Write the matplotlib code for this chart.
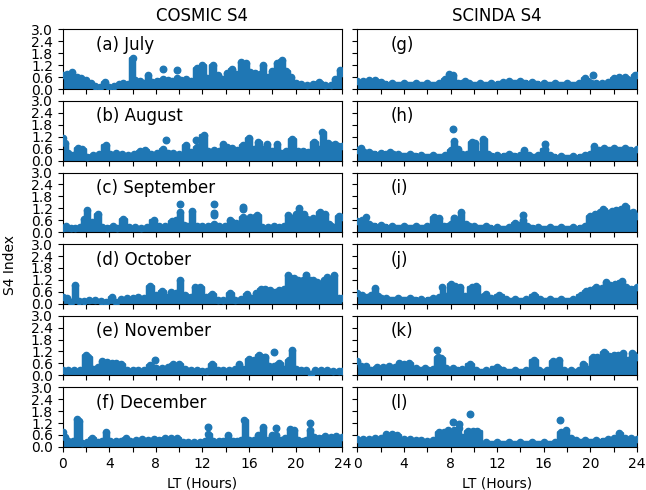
import matplotlib
matplotlib.use("Agg")
import matplotlib.pyplot as plt

# envelope of S4 values (top of the point cloud) per panel
jul_lt = [0, 0.4, 0.8, 1.2, 1.6, 2.0, 2.4, 2.8, 3.2, 3.6, 4.0, 4.4, 4.8, 5.2, 5.6, 6.0, 6.2, 6.6, 7.0, 7.3, 7.7, 8.1,
          8.6, 9.0, 9.4, 9.8, 10.2, 10.6, 11.0, 11.5, 12.0, 12.4, 12.9, 13.3, 13.7, 14.1, 14.5, 14.9, 15.3, 15.7,
          16.1, 16.5, 16.9, 17.2, 17.6, 18.0, 18.4, 18.8, 19.2, 19.6, 20.0, 20.5, 21.0, 21.5, 22.0, 22.5, 23.0,
          23.4, 23.8, 24]
jul_s4 = [0.7, 0.75, 0.85, 0.6, 0.55, 0.45, 0.3, 0.15, 0.1, 0.35, 0.1, 0.15, 0.25, 0.3, 0.25, 1.55, 0.45, 0.4, 0.3,
          0.7, 0.35, 0.4, 0.5, 0.45, 0.4, 0.55, 0.45, 0.5, 0.4, 1.05, 1.2, 0.55, 1.2, 0.7, 0.5, 0.8, 1.0, 0.75, 1.35,
          1.3, 0.85, 0.8, 0.75, 1.2, 0.6, 0.9, 1.3, 1.45, 0.9, 0.6, 0.3, 0.25, 0.2, 0.25, 0.35, 0.2, 0.2, 0.5, 0.95,
          0.8]
jul_dots = [(8.6, 1.0), (9.8, 0.95)]

aug_lt = [0, 0.2, 0.5, 0.9, 1.3, 1.7, 2.1, 2.6, 3.1, 3.7, 4.1, 4.6, 5.1, 5.6, 6.1, 6.6, 7.1, 7.6, 8.1, 8.6, 9.0, 9.5,
          10.0, 10.6, 11.0, 11.5, 12.1, 12.5, 13.0, 13.4, 13.8, 14.1, 14.5, 15.0, 15.5, 16.0, 16.4, 16.8, 17.2, 17.5,
          18.0, 18.4, 18.7, 19.2, 19.7, 20.2, 20.6, 21.1, 21.6, 22.0, 22.3, 22.8, 23.4, 24]
aug_s4 = [1.15, 0.9, 0.4, 0.3, 0.65, 0.6, 0.2, 0.3, 0.35, 0.8, 0.35, 0.4, 0.35, 0.3, 0.35, 0.5, 0.55, 0.35, 0.4, 0.6,
          0.4, 0.4, 0.35, 0.8, 0.45, 0.7, 1.3, 0.5, 0.55, 0.5, 0.85, 0.7, 0.65, 0.55, 0.8, 1.15, 0.6, 0.95, 0.6, 0.85,
          0.5, 0.85, 0.4, 0.5, 1.1, 0.5, 0.5, 0.45, 0.95, 0.6, 1.45, 0.9, 0.85, 0.75]
aug_dots = [(8.9, 1.05), (11.45, 1.05)]

sep_lt = [0, 0.3, 0.7, 1.1, 1.5, 1.8, 2.1, 2.5, 3.0, 3.4, 3.8, 4.3, 4.7, 5.2, 5.7, 6.2, 6.7, 7.2, 7.8, 8.3, 8.8, 9.4,
          9.7, 10.05, 10.4, 10.7, 11.1, 11.5, 12.0, 12.5, 13.0, 13.4, 13.9, 14.4, 14.9, 15.5, 15.8, 16.1, 16.7, 17.1,
          17.6, 18.1, 18.6, 19.0, 19.3, 19.7, 20.0, 20.3, 20.7, 21.0, 21.5, 22.1, 22.5, 22.9, 23.3, 23.7, 24]
sep_s4 = [0.2, 0.3, 0.2, 0.2, 0.25, 0.65, 1.1, 0.5, 0.9, 0.25, 0.2, 0.3, 0.2, 0.65, 0.25, 0.25, 0.2, 0.25, 0.6, 0.3,
          0.3, 0.55, 0.6, 1.0, 0.35, 0.3, 1.05, 0.3, 0.3, 0.3, 0.4, 0.3, 0.3, 0.6, 0.45, 0.75, 0.3, 0.75, 0.85, 0.25,
          0.25, 0.3, 0.25, 0.3, 0.85, 0.7, 0.9, 1.2, 0.9, 0.65, 0.7, 1.0, 0.9, 0.4, 0.25, 0.8, 0.75]
sep_dots = [(10.05, 1.4), (13.0, 0.85), (13.0, 0.95), (13.0, 1.4), (15.5, 1.18), (15.5, 1.25)]

oct_lt = [0, 0.4, 0.7, 1.1, 1.4, 1.8, 2.3, 2.8, 3.3, 3.7, 4.2, 4.6, 5.0, 5.5, 6.0, 6.5, 7.0, 7.5, 8.0, 8.5, 9.0, 9.3,
          9.7, 10.05, 10.5, 11.0, 11.4, 11.8, 12.3, 12.8, 13.3, 13.8, 14.4, 14.8, 15.3, 15.8, 16.2, 16.6, 17.0, 17.4,
          17.8, 18.2, 18.6, 19.0, 19.3, 19.6, 19.9, 20.2, 20.6, 20.9, 21.2, 21.5, 21.8, 22.1, 22.4, 22.7, 23.0, 23.3,
          23.7, 24]
oct_s4 = [0.35, 0.3, 0.1, 0.95, 0.15, 0.15, 0.2, 0.2, 0.15, 0.1, 0.35, 0.1, 0.25, 0.3, 0.3, 0.35, 0.3, 0.9, 0.45, 0.65,
          0.35, 0.6, 0.55, 1.2, 0.45, 0.35, 0.85, 0.85, 0.35, 0.5, 0.2, 0.2, 0.55, 0.2, 0.25, 0.5, 0.3, 0.55, 0.75,
          0.75, 0.7, 0.6, 0.7, 0.75, 1.45, 1.3, 1.3, 1.2, 1.2, 1.3, 1.2, 1.2, 1.1, 1.0, 1.2, 1.35, 0.6, 1.45, 0.3, 0.3]
oct_dots = [(20.9, 1.45)]

nov_lt = [0, 0.5, 1.0, 1.5, 2.0, 2.2, 2.6, 3.0, 3.4, 3.8, 4.2, 4.6, 5.0, 5.5, 6.0, 6.5, 7.0, 7.5, 8.0, 8.5, 9.0, 9.5,
          10.0, 10.5, 11.0, 11.5, 12.0, 12.4, 12.8, 13.3, 13.8, 14.3, 14.8, 15.1, 15.5, 16.0, 16.4, 16.85, 17.3, 17.7,
          18.1, 18.6, 19.0, 19.4, 19.7, 20.0, 20.5, 20.9, 21.3, 21.7, 22.2, 22.7, 23.2, 23.7, 24]
nov_s4 = [0.25, 0.25, 0.25, 0.25, 1.0, 0.9, 0.3, 0.4, 0.7, 0.65, 0.6, 0.6, 0.55, 0.25, 0.25, 0.25, 0.25, 0.5, 0.35,
          0.35, 0.4, 0.55, 0.55, 0.3, 0.25, 0.25, 0.2, 0.2, 0.55, 0.25, 0.25, 0.25, 0.3, 0.55, 0.3, 0.8, 0.75, 1.0,
          0.85, 0.45, 0.45, 0.6, 0.3, 0.75, 1.25, 0.3, 0.25, 0.25, 0.05, 0.25, 0.25, 0.25, 0.2, 0.2, 0.2]
nov_dots = [(7.9, 0.75), (18.1, 1.15), (17.4, 0.9)]

dec_lt = [0, 0.2, 0.5, 0.9, 1.2, 1.4, 1.7, 2.1, 2.5, 3.0, 3.4, 3.7, 4.1, 4.6, 5.0, 5.4, 5.8, 6.3, 6.8, 7.3, 7.8, 8.3,
          8.8, 9.3, 9.8, 10.3, 10.8, 11.3, 11.8, 12.2, 12.5, 12.9, 13.4, 13.8, 14.2, 14.6, 15.0, 15.3, 15.6, 16.0,
          16.4, 16.8, 17.2, 17.6, 18.0, 18.3, 18.7, 19.1, 19.5, 19.9, 20.2, 20.6, 20.9, 21.2, 21.6, 22.0, 22.5, 23.0,
          23.5, 24]
dec_s4 = [0.75, 0.5, 0.3, 0.3, 1.4, 1.3, 0.2, 0.25, 0.45, 0.25, 0.3, 0.75, 0.3, 0.3, 0.3, 0.45, 0.3, 0.35, 0.4, 0.35,
          0.4, 0.35, 0.45, 0.45, 0.45, 0.25, 0.25, 0.25, 0.25, 0.3, 0.65, 0.3, 0.3, 0.3, 0.6, 0.3, 0.3, 0.35, 1.35,
          0.35, 0.35, 0.6, 1.0, 0.35, 0.6, 0.6, 0.35, 0.45, 0.9, 0.85, 0.35, 0.3, 0.35, 0.85, 0.5, 0.45, 0.55, 0.5,
          0.55, 0.5]
dec_dots = [(12.5, 1.0), (18.3, 0.95), (21.2, 1.2)]

g_lt = [0, 0.5, 1.0, 1.5, 2.0, 3.0, 4.0, 5.0, 6.0, 7.0, 7.5, 7.9, 8.2, 8.6, 9.2, 9.6, 10.5, 11.5, 12.5, 13.0, 14.0,
        15.0, 16.0, 17.0, 18.0, 19.0, 19.5, 19.8, 20.5, 21.0, 21.5, 22.0, 22.5, 23.0, 23.4, 23.8, 24]
g_s4 = [0.4, 0.4, 0.45, 0.45, 0.35, 0.3, 0.3, 0.3, 0.3, 0.3, 0.5, 0.75, 0.7, 0.3, 0.4, 0.3, 0.3, 0.3, 0.35, 0.4, 0.4,
        0.35, 0.3, 0.3, 0.3, 0.3, 0.55, 0.4, 0.3, 0.3, 0.35, 0.55, 0.6, 0.6, 0.45, 0.7, 0.7]
g_dots = [(20.2, 0.72)]

h_lt = [0, 0.3, 0.6, 1.0, 2.0, 2.8, 3.5, 4.5, 5.5, 6.5, 7.5, 8.0, 8.3, 8.6, 9.0, 9.4, 9.8, 10.1, 10.5, 10.8, 11.2,
        12.0, 13.0, 14.0, 14.3, 14.7, 15.5, 16.1, 16.5, 17.5, 18.5, 19.5, 20.0, 20.3, 20.7, 21.2, 22.0, 23.0, 24]
h_s4 = [0.55, 0.65, 0.45, 0.45, 0.4, 0.45, 0.35, 0.35, 0.3, 0.3, 0.3, 0.55, 1.0, 0.6, 0.35, 0.35, 0.95, 0.9, 0.35,
        1.1, 0.35, 0.3, 0.35, 0.3, 0.55, 0.3, 0.3, 0.6, 0.3, 0.25, 0.25, 0.3, 0.35, 0.75, 0.55, 0.65, 0.65, 0.65,
        0.6]
h_dots = [(8.25, 1.6), (16.1, 0.85)]

i_lt = [0, 0.4, 0.7, 1.0, 2.0, 3.0, 4.0, 5.0, 6.0, 6.6, 7.0, 7.4, 8.0, 8.3, 8.6, 8.9, 9.3, 10.0, 11.0, 12.0, 13.0,
        13.5, 13.9, 14.2, 14.6, 15.5, 16.5, 17.5, 18.5, 19.5, 20.0, 20.4, 20.8, 21.1, 21.5, 21.9, 22.2, 22.6, 23.0,
        23.4, 23.7, 24]
i_s4 = [0.55, 0.6, 0.75, 0.4, 0.35, 0.3, 0.3, 0.3, 0.3, 0.75, 0.7, 0.3, 0.4, 0.6, 0.4, 1.0, 0.4, 0.3, 0.3, 0.25, 0.25,
        0.45, 0.35, 0.6, 0.3, 0.25, 0.25, 0.25, 0.25, 0.3, 0.8, 0.9, 1.0, 1.15, 0.95, 1.05, 1.1, 1.15, 1.3, 0.95,
        1.0, 0.8]
i_dots = [(14.2, 0.85), (8.3, 0.72)]

j_lt = [0, 0.4, 0.8, 1.2, 1.5, 1.8, 2.5, 3.5, 4.5, 5.5, 6.5, 7.0, 7.3, 7.6, 8.0, 8.4, 8.8, 9.2, 9.8, 10.2, 10.6, 11.0,
        11.5, 12.2, 12.8, 13.5, 14.5, 15.2, 15.7, 16.5, 17.5, 18.5, 19.2, 19.6, 20.0, 20.5, 21.0, 21.3, 21.7, 22.1,
        22.7, 23.1, 23.5, 24]
j_s4 = [0.55, 0.45, 0.35, 0.45, 0.8, 0.4, 0.3, 0.3, 0.3, 0.25, 0.3, 0.35, 0.85, 0.4, 1.0, 0.9, 0.85, 0.4, 0.85, 0.9,
        0.35, 0.5, 0.3, 0.45, 0.25, 0.25, 0.25, 0.45, 0.25, 0.25, 0.25, 0.25, 0.45, 0.65, 0.7, 0.85, 0.8, 1.1, 0.95,
        1.0, 1.15, 0.85, 0.75, 0.85]
j_dots = []

k_lt = [0, 0.3, 0.7, 1.2, 1.7, 2.2, 2.7, 3.2, 3.6, 4.0, 4.4, 5.0, 5.8, 6.5, 6.9, 7.2, 7.6, 8.2, 9.0, 9.7, 10.2, 11.0,
        12.0, 12.5, 13.5, 14.5, 15.2, 15.6, 16.3, 16.8, 17.3, 17.7, 18.3, 19.0, 19.4, 19.8, 20.2, 20.6, 21.2, 21.6,
        22.0, 22.4, 22.8, 23.2, 23.6, 24]
k_s4 = [0.7, 0.45, 0.45, 0.25, 0.4, 0.4, 0.45, 0.4, 0.6, 0.55, 0.6, 0.35, 0.35, 0.3, 0.9, 0.85, 0.35, 0.35, 0.3, 0.55,
        0.25, 0.25, 0.4, 0.25, 0.25, 0.25, 0.75, 0.25, 0.25, 0.7, 0.75, 0.25, 0.25, 0.25, 0.55, 0.3, 0.9, 0.9, 1.15,
        0.95, 1.0, 1.0, 1.1, 0.75, 1.1, 0.9]
k_dots = [(6.85, 1.25)]

l_lt = [0, 0.5, 1.0, 1.5, 2.0, 2.5, 3.0, 3.4, 4.0, 4.5, 5.0, 5.5, 6.0, 6.5, 7.0, 7.4, 7.8, 8.3, 8.7, 9.0, 9.5, 9.9,
        10.3, 11.0, 12.0, 13.0, 14.0, 15.0, 16.0, 17.0, 17.5, 17.9, 18.3, 18.8, 19.5, 20.5, 21.5, 22.0, 22.5, 23.0,
        23.5, 24]
l_s4 = [0.4, 0.4, 0.4, 0.45, 0.45, 0.65, 0.65, 0.6, 0.4, 0.4, 0.35, 0.35, 0.3, 0.35, 0.75, 0.75, 0.85, 0.85, 0.95,
        0.5, 0.8, 0.8, 0.8, 0.25, 0.25, 0.25, 0.25, 0.25, 0.25, 0.25, 0.75, 0.85, 0.45, 0.35, 0.35, 0.35, 0.4, 0.45,
        0.7, 0.45, 0.45, 0.4]
l_dots = [(8.2, 1.25), (8.7, 1.15), (9.7, 1.65), (17.4, 1.35)]

cosmic = [(jul_lt, jul_s4, jul_dots, "(a) July"), (aug_lt, aug_s4, aug_dots, "(b) August"),
          (sep_lt, sep_s4, sep_dots, "(c) September"), (oct_lt, oct_s4, oct_dots, "(d) October"),
          (nov_lt, nov_s4, nov_dots, "(e) November"), (dec_lt, dec_s4, dec_dots, "(f) December")]
scinda = [(g_lt, g_s4, g_dots, "(g)"), (h_lt, h_s4, h_dots, "(h)"), (i_lt, i_s4, i_dots, "(i)"),
          (j_lt, j_s4, j_dots, "(j)"), (k_lt, k_s4, k_dots, "(k)"), (l_lt, l_s4, l_dots, "(l)")]

color = "#1f77b4"
fig, axes = plt.subplots(6, 2, figsize=(6.46, 4.9), dpi=100, sharex=True, sharey=True)
fig.subplots_adjust(left=0.097, right=0.986, top=0.940, bottom=0.088, wspace=0.054, hspace=0.2)

for col, panels in enumerate([cosmic, scinda]):
    for row, (lt, s4, dots, label) in enumerate(panels):
        ax = axes[row, col]
        # thick edge so narrow columns look like stacked markers
        ax.fill_between(lt, 0, s4, step="mid", facecolor=color, edgecolor=color, lw=2.5)
        ax.scatter(lt, s4, s=20, color=color, zorder=3)
        if dots:
            dx = [d[0] for d in dots]
            dy = [d[1] for d in dots]
            ax.scatter(dx, dy, s=22, color=color, zorder=3)
        ax.text(0.12, 0.74, label, transform=ax.transAxes, fontsize=12, va="center")
        ax.set_xlim(0, 24)
        ax.set_ylim(0, 3.0)

axes[0, 0].set_yticks([0, 0.6, 1.2, 1.8, 2.4, 3.0])
axes[0, 0].set_yticklabels(["0.0", "0.6", "1.2", "1.8", "2.4", "3.0"])
xt = list(range(0, 25, 2))
axes[0, 0].set_xticks(xt)
for ax in axes[-1, :]:
    ax.set_xticklabels([str(t) if t % 4 == 0 else "" for t in xt])
    ax.set_xlabel("LT (Hours)")

axes[0, 0].set_title("COSMIC S4", fontsize=12)
axes[0, 1].set_title("SCINDA S4", fontsize=12)
fig.text(0.016, 0.46, "S4 Index", rotation=90, va="center", ha="center", fontsize=10)

plt.savefig("out.png", dpi=100)
